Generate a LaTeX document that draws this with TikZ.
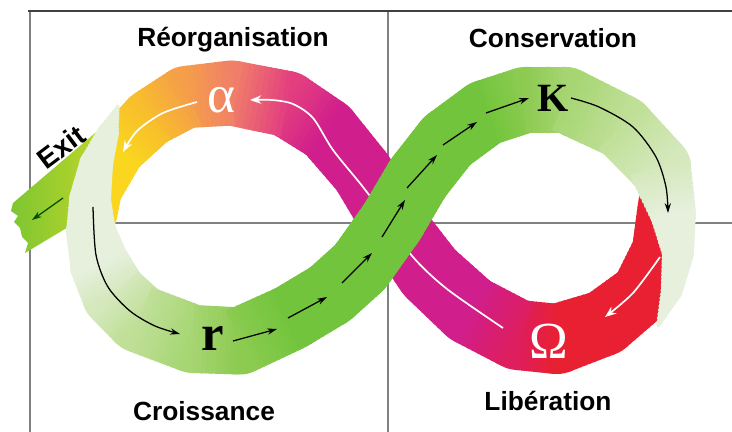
\documentclass[tikz,border=0pt]{standalone}
\usepackage{fontspec}
\setmainfont{Liberation Serif}
\setsansfont{Liberation Sans}
\usetikzlibrary{calc,arrows.meta}

% band colours
\definecolor{gA}{RGB}{114,196,60}
\definecolor{gN}{RGB}{140,203,80}
\definecolor{gM}{RGB}{166,213,114}
\definecolor{gL}{RGB}{192,224,152}
\definecolor{gQ}{RGB}{212,232,188}
\definecolor{gP}{RGB}{230,240,220}
\definecolor{mg}{RGB}{208,30,140}
\definecolor{rm}{RGB}{222,30,95}
\definecolor{rd}{RGB}{232,32,50}
\definecolor{mp}{RGB}{226,62,128}
\definecolor{pk}{RGB}{240,128,104}
\definecolor{orng}{RGB}{245,160,72}
\definecolor{yo}{RGB}{248,190,45}
\definecolor{yl}{RGB}{250,214,30}
\definecolor{exA}{RGB}{125,198,50}
\definecolor{exB}{RGB}{195,215,40}

% band through a list x/y/width/colour: joints first, then the pieces,
% colour and width blended along each piece
\newcommand{\drawband}[1]{%
  \foreach \x/\y/\w/\c in {#1} {
    \pgfmathsetmacro\rr{0.3557*\w}
    \fill[color=\c] (\x,\y) circle[radius=\rr pt];
  }
  \foreach \x/\y/\w/\c [count=\i, remember=\x as \lx (initially 0),
      remember=\y as \ly (initially 0), remember=\w as \lw (initially 0),
      remember=\c as \lc (initially white)] in {#1} {
    \ifnum\i>1
      \foreach \s in {0,...,9} {
        \pgfmathsetmacro\sa{\s/10}
        \pgfmathsetmacro\sz{min(1,(\s+1.3)/10)}
        \pgfmathsetmacro\ww{0.7113*(\lw+(\w-\lw)*(\s+0.5)/10)}
        \pgfmathtruncatemacro\pct{10*\s+5}
        \draw[line width=\ww pt, color={\c!\pct!\lc}]
          ($(\lx,\ly)!\sa!(\x,\y)$) -- ($(\lx,\ly)!\sz!(\x,\y)$);
      }
    \fi
  }%
}

\begin{document}
\begin{tikzpicture}[x=0.025cm, y=-0.025cm,
  frame/.style={draw=black!50, line width=1.4pt},
  lbl/.style={font=\sffamily\bfseries\fontsize{18.7}{20}\selectfont, inner sep=0pt},
  blk/.style={black, line width=0.9pt, -{Stealth[length=7pt,width=4.5pt]}},
  wht/.style={white, line width=1.2pt, -{Stealth[length=8pt,width=6pt]}}]
  \useasboundingbox (0,0) rectangle (732,432);

  % quadrant frame
  \draw[frame] (30,11) -- (30,432);
  \draw[frame] (388,11) -- (388,432);
  \draw[frame] (30,223) -- (732,223);
  \draw[draw=black!75, line width=1.8pt] (28,11) -- (732,11);

  % exit branch
  \shade[left color=exA, right color=exB]
    (108,122) -- (13,203) -- (11,211) -- (18,216) -- (14,222) -- (20,228)
    -- (22,237) -- (28,243) -- (25,253) -- (100,208) -- cycle;
  \draw[line width=0.9pt, black!70!green, -{Stealth[length=7pt,width=4.5pt]}]
    (63,198) -- (32,220);
  \node[lbl, rotate=37, font=\sffamily\bfseries\fontsize{20}{22}\selectfont]
    (exit) at (61,147) {Exit};

  % back strand: Omega -> alpha
  \drawband{665/205/54/rd, 660/250/56/rd, 642/293/62/rd, 604/323/66/rd,
    557/339/70/rd, 518/335/70/rm, 470/310/70/mg, 430/273/68/mg,
    393/222/64/mg, 362/172/62/mg, 327/130/64/mg, 287/104/66/mp,
    232/93/65/pk, 186/97/62/orng, 150/118/58/yo, 118/150/54/yl,
    97/190/50/yl, 93/215/48/yl}

  \node[inner sep=0pt, text=white, font=\fontsize{38}{40}\selectfont] (alpha) at (221,100) {α};
  \node[inner sep=0pt, text=white, font=\fontsize{37}{40}\selectfont] (omega) at (549,341) {Ω};

  \draw[wht] plot[smooth] coordinates {(503,328) (447,289) (413,257) (386,218)
    (363,187) (333,150) (313,118) (293,104) (272,100) (250,100)};
  \draw[wht] plot[smooth] coordinates {(660,257) (633,293) (605,317)};
  \draw[wht] plot[smooth] coordinates {(197,102) (163,113) (137,131) (123,152)};

  % front strand: r -> K
  \drawband{118/106/3/gP, 108/133/22/gP, 96/165/34/gP, 90/200/42/gP,
    91/232/50/gP, 100/265/60/gP, 115/295/66/gQ, 140/319/68/gL,
    193/339/68/gM, 240/341/67/gN, 290/318/66/gA, 330/294/66/gA,
    360/267/66/gA, 392/222/66/gA, 418/178/66/gA, 447/141/66/gA,
    485/113/66/gA, 525/100/66/gN, 566/100/66/gM, 622/127/64/gL,
    660/167/62/gQ, 673/213/46/gP, 678/252/32/gP, 672/290/22/gP,
    658/326/3/gP}

  \node[inner sep=0pt, font=\bfseries\fontsize{28.5}{30}\selectfont] (K) at (553,98) {K};
  \node[inner sep=0pt, font=\bfseries\fontsize{36}{38}\selectfont] (r) at (213,339) {r};

  \draw[blk] plot[smooth] coordinates {(93,207) (96,255) (108,287) (130,311) (155,326) (180,334)};
  \draw[blk] plot[smooth] coordinates {(571,98) (599,107) (633,127) (656,157) (666,187) (668,213)};
  \foreach \ax/\ay/\bx/\by in {233/341/277/329, 288/318/327/297, 342/283/372/253,
      382/237/405/200, 407/188/437/155, 443/145/477/122, 486/113/529/98}
    \draw[blk] (\ax,\ay) -- (\bx,\by);

  % phase names
  \node[lbl] (reorg) at (233,40) {Réorganisation};
  \node[lbl] (cons) at (553,38) {Conservation};
  \node[lbl] (crois) at (204,411) {Croissance};
  \node[lbl] (lib) at (548,401) {Libération};
\end{tikzpicture}
\end{document}
